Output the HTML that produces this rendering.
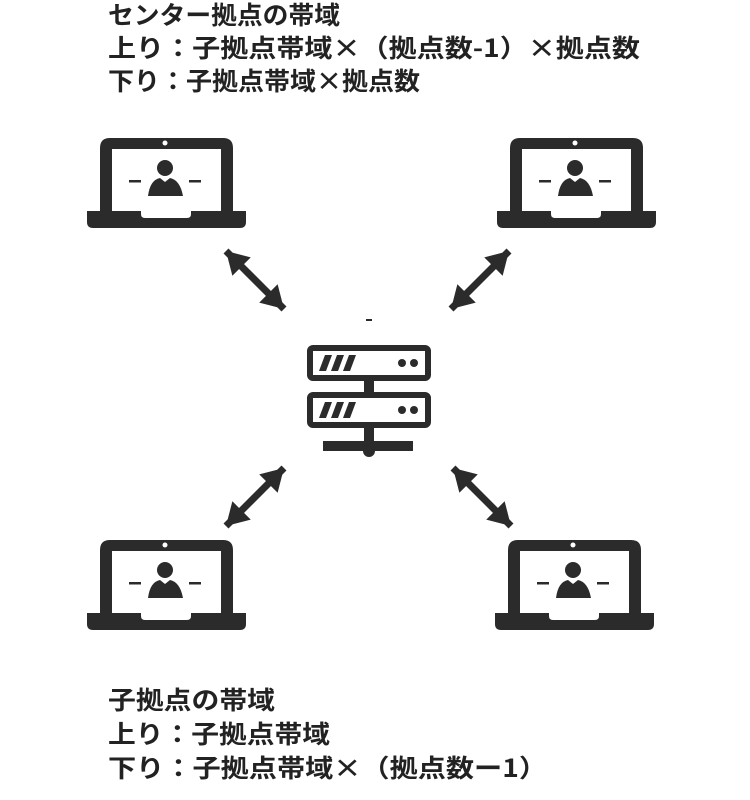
<!DOCTYPE html>
<html><head><meta charset="utf-8"><style>
html,body{margin:0;padding:0;background:#fff;}
svg{display:block;}
text{font-family:"Noto Sans CJK JP","Liberation Sans",sans-serif;font-weight:bold;font-size:25px;fill:#222;}
</style></head><body>
<svg width="750" height="800" viewBox="0 0 750 800" xmlns="http://www.w3.org/2000/svg">
<defs>
<g id="lap">
  <path d="M100,211 V148 Q100,138 110,138 H223 Q233,138 233,148 V211 H221 V149 H112 V211 Z" fill="#2b2b2b"/>
  <circle cx="165" cy="143" r="2.5" fill="#fff"/>
  <path d="M87,211 H141 V214 Q141,218 145,218 H187 Q191,218 191,214 V211 H246 V222 Q246,228 240,228 H93 Q87,228 87,222 Z" fill="#2b2b2b"/>
  <circle cx="165" cy="168" r="8" fill="#2b2b2b"/>
  <path d="M148,196 Q150,180 160,178 L165,182 L170,178 Q180,180 183,196 Z" fill="#2b2b2b"/>
  <rect x="129" y="180" width="12" height="2.5" fill="#2b2b2b"/>
  <rect x="189" y="180" width="12" height="2.5" fill="#2b2b2b"/>
</g>
<g id="arr">
  <line x1="0" y1="0" x2="82" y2="0" stroke="#2b2b2b" stroke-width="7"/>
  <polygon points="0,0 22,-13 22,13" fill="#2b2b2b"/>
  <polygon points="82,0 60,-13 60,13" fill="#2b2b2b"/>
</g>
</defs>
<text x="108" y="24" textLength="232" lengthAdjust="spacingAndGlyphs">センター拠点の帯域</text>
<text x="108" y="57" textLength="532" lengthAdjust="spacingAndGlyphs">上り：子拠点帯域×（拠点数-1）×拠点数</text>
<text x="108" y="90" textLength="312" lengthAdjust="spacingAndGlyphs">下り：子拠点帯域×拠点数</text>

<use href="#lap"/>
<use href="#lap" transform="translate(410,0)"/>
<use href="#lap" transform="translate(0,402)"/>
<use href="#lap" transform="translate(408,402)"/>

<use href="#arr" transform="translate(226,251) rotate(45)"/>
<use href="#arr" transform="translate(509,251) rotate(135)"/>
<use href="#arr" transform="translate(226,526) rotate(-45)"/>
<use href="#arr" transform="translate(511,526) rotate(-135)"/>

<rect x="366" y="319" width="6" height="2" fill="#2b2b2b"/>
<rect x="310" y="348" width="118" height="30" rx="3" fill="#fff" stroke="#2b2b2b" stroke-width="6"/>
<rect x="310" y="395" width="118" height="30" rx="3" fill="#fff" stroke="#2b2b2b" stroke-width="6"/>
<g fill="#2b2b2b">
  <polygon points="319,371 325,355 332,355 326,371"/>
  <polygon points="331,371 337,355 344,355 338,371"/>
  <polygon points="343,371 349,355 356,355 350,371"/>
  <polygon points="319,418 325,402 332,402 326,418"/>
  <polygon points="331,418 337,402 344,402 338,418"/>
  <polygon points="343,418 349,402 356,402 350,418"/>
  <circle cx="402" cy="363" r="4"/><circle cx="414" cy="363" r="4"/>
  <circle cx="402" cy="410" r="4"/><circle cx="414" cy="410" r="4"/>
  <rect x="364" y="380" width="10" height="13"/>
  <rect x="364" y="427" width="10" height="20"/>
  <rect x="323" y="441" width="90" height="10"/>
  <circle cx="369" cy="451" r="6"/>
</g>

<text x="108" y="709" textLength="167" lengthAdjust="spacingAndGlyphs">子拠点の帯域</text>
<text x="108" y="743" textLength="222" lengthAdjust="spacingAndGlyphs">上り：子拠点帯域</text>
<text x="108" y="777" textLength="439" lengthAdjust="spacingAndGlyphs">下り：子拠点帯域×（拠点数ー1）</text>
</svg>
</body></html>
